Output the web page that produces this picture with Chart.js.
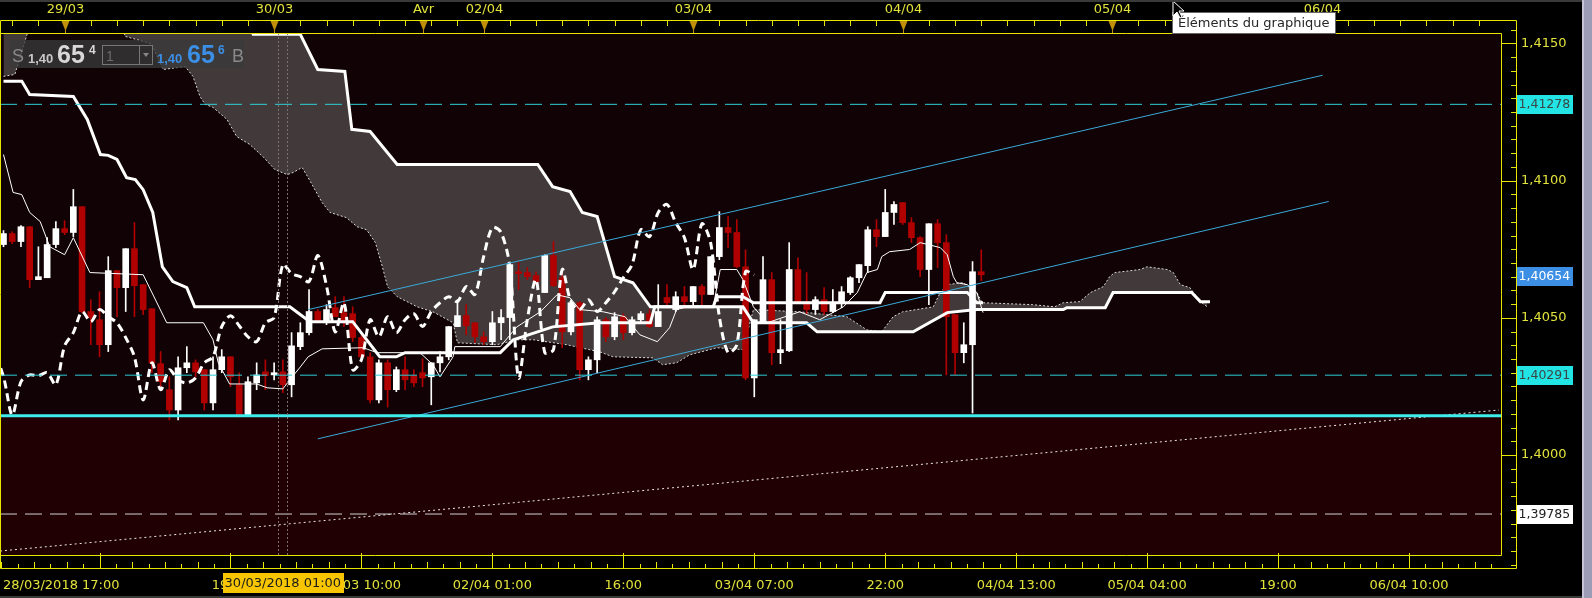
<!DOCTYPE html>
<html>
<head>
<meta charset="utf-8">
<title>Ichimoku 1h</title>
<script src="https://cdn.jsdelivr.net/npm/chart.js@4.4.1/dist/chart.umd.min.js"></script>
<style>
  html, body { margin: 0; padding: 0; background: #000; overflow: hidden; }
  #wrap { position: relative; width: 1592px; height: 598px; }
</style>
</head>
<body>
<div id="wrap"><canvas id="chart"></canvas></div>
<script>
// hourly bars, bar 0 = 28/03/2018 17:00 (weekend hours skipped)
const open = [1.40767,1.40807,1.40778,1.40832,1.40639,1.40646,1.40767,1.40825,1.40811,1.40905,
  1.40523,1.40493,1.40402,1.40672,1.40610,1.40752,1.40621,1.40533,1.40333,1.40238,
  1.40164,1.40318,1.40336,1.40311,1.40190,1.40311,1.40358,1.40256,1.40146,1.40263,
  1.40303,1.40292,1.40303,1.40256,1.40395,1.40446,1.40523,1.40482,1.40537,1.40519,
  1.40515,1.40428,1.40358,1.40201,1.40336,1.40238,1.40311,1.40289,1.40300,1.40285,
  1.40336,1.40358,1.40468,1.40508,1.40482,1.40431,1.40413,1.40482,1.40501,1.40668,
  1.40665,1.40654,1.40592,1.40727,1.40646,1.40449,1.40555,1.40311,1.40347,1.40493,
  1.40431,1.40504,1.40446,1.40493,1.40515,1.40468,1.40574,1.40530,1.40577,1.40559,
  1.40614,1.40585,1.40723,1.40829,1.40811,1.40686,1.40281,1.40482,1.40639,1.40373,
  1.40380,1.40676,1.40559,1.40530,1.40566,1.40523,1.40555,1.40592,1.40646,1.40690,
  1.40821,1.40796,1.40884,1.40920,1.40847,1.40792,1.40676,1.40843,1.40774,1.40512,
  1.40373,1.40402,1.40668];
const high = [1.40818,1.40814,1.40836,1.40832,1.40759,1.40792,1.40851,1.40854,1.40968,1.40905,
  1.40566,1.40595,1.40723,1.40672,1.40752,1.40847,1.40621,1.40533,1.40377,1.40285,
  1.40358,1.40395,1.40347,1.40311,1.40358,1.40384,1.40358,1.40300,1.40285,1.40336,
  1.40347,1.40336,1.40347,1.40446,1.40482,1.40603,1.40530,1.40548,1.40577,1.40577,
  1.40540,1.40438,1.40373,1.40347,1.40347,1.40321,1.40358,1.40311,1.40351,1.40336,
  1.40377,1.40468,1.40566,1.40548,1.40482,1.40449,1.40523,1.40530,1.40694,1.40701,
  1.40683,1.40668,1.40730,1.40778,1.40676,1.40566,1.40559,1.40358,1.40504,1.40501,
  1.40519,1.40515,1.40504,1.40523,1.40530,1.40621,1.40621,1.40595,1.40614,1.40614,
  1.40621,1.40723,1.40887,1.40869,1.40858,1.40748,1.40493,1.40723,1.40665,1.40493,
  1.40774,1.40719,1.40665,1.40577,1.40610,1.40603,1.40614,1.40650,1.40694,1.40832,
  1.40858,1.40968,1.40924,1.40920,1.40865,1.40796,1.40843,1.40858,1.40803,1.40512,
  1.40482,1.40705,1.40748];
const low = [1.40759,1.40770,1.40759,1.40610,1.40639,1.40646,1.40756,1.40803,1.40796,1.40519,
  1.40402,1.40358,1.40377,1.40504,1.40523,1.40504,1.40512,1.40300,1.40238,1.40128,
  1.40128,1.40300,1.40285,1.40164,1.40164,1.40300,1.40249,1.40139,1.40146,1.40238,
  1.40238,1.40274,1.40227,1.40212,1.40384,1.40438,1.40482,1.40475,1.40504,1.40468,
  1.40413,1.40347,1.40190,1.40190,1.40175,1.40231,1.40238,1.40249,1.40249,1.40183,
  1.40303,1.40347,1.40468,1.40438,1.40409,1.40402,1.40402,1.40420,1.40420,1.40603,
  1.40639,1.40621,1.40592,1.40614,1.40391,1.40438,1.40274,1.40274,1.40300,1.40413,
  1.40420,1.40420,1.40438,1.40482,1.40464,1.40468,1.40540,1.40523,1.40540,1.40548,
  1.40548,1.40585,1.40712,1.40756,1.40683,1.40274,1.40212,1.40482,1.40329,1.40333,
  1.40377,1.40555,1.40512,1.40512,1.40512,1.40519,1.40537,1.40585,1.40628,1.40665,
  1.40759,1.40796,1.40840,1.40840,1.40774,1.40650,1.40548,1.40683,1.40292,1.40292,
  1.40336,1.40153,1.40635];
const close = [1.40807,1.40778,1.40832,1.40639,1.40650,1.40767,1.40825,1.40811,1.40905,1.40523,
  1.40501,1.40402,1.40672,1.40610,1.40752,1.40617,1.40530,1.40336,1.40267,1.40164,
  1.40318,1.40336,1.40303,1.40190,1.40311,1.40358,1.40285,1.40146,1.40267,1.40292,
  1.40289,1.40300,1.40256,1.40398,1.40446,1.40523,1.40486,1.40530,1.40504,1.40482,
  1.40428,1.40358,1.40201,1.40336,1.40238,1.40311,1.40274,1.40263,1.40281,1.40336,
  1.40358,1.40468,1.40508,1.40471,1.40431,1.40413,1.40482,1.40501,1.40694,1.40661,
  1.40650,1.40632,1.40727,1.40617,1.40449,1.40555,1.40311,1.40347,1.40493,1.40431,
  1.40504,1.40446,1.40493,1.40515,1.40468,1.40523,1.40555,1.40577,1.40559,1.40614,
  1.40585,1.40723,1.40829,1.40811,1.40686,1.40281,1.40493,1.40639,1.40373,1.40384,
  1.40676,1.40559,1.40530,1.40566,1.40523,1.40555,1.40595,1.40646,1.40694,1.40821,
  1.40796,1.40884,1.40913,1.40847,1.40792,1.40676,1.40843,1.40774,1.40504,1.40373,
  1.40402,1.40668,1.40657];

// ichimoku lines: [bar, price]
const tenkan = [[0,1.41095],[1.1,1.40957],[2.1,1.40949],[3.0,1.40884],[4.2,1.40851],[5.3,1.40759],[7.0,1.40730],
  [8.0,1.40792],[9.9,1.40665],[16.0,1.40657],[18.7,1.40482],[22.9,1.40482],[24.0,1.40420],[24.6,1.40336],
  [25.9,1.40259],[29.0,1.40259],[30.2,1.40245],[32.0,1.40241],[32.8,1.40274],[34.0,1.40321],[34.9,1.40358],
  [36.5,1.40387],[41.2,1.40391],[42.8,1.40373],[47.7,1.40373],[49.2,1.40329],[50.0,1.40285],[51.5,1.40358],
  [51.7,1.40395],[56.9,1.40395],[58.8,1.40467],[61.5,1.40522],[63.4,1.40584],[64.9,1.40573],[66.0,1.40530],
  [68.7,1.40522],[71.2,1.40504],[72.9,1.40438],[74.9,1.40413],[76.3,1.40464],[77.1,1.40530],[78.3,1.40540],
  [81.3,1.40540],[82.1,1.40676],[84.0,1.40676],[84.7,1.40639],[85.9,1.40540],[87.5,1.40482],[91.2,1.40522],
  [93.5,1.40493],[96.2,1.40540],[97.8,1.40592],[98.9,1.40665],[100.1,1.40676],[100.6,1.40723],[101.5,1.40741],
  [103.8,1.40749],[105.0,1.40774],[107.3,1.40756],[108.1,1.40730],[108.8,1.40650],[109.2,1.40628],
  [110.4,1.40621],[111.5,1.40592],[112.2,1.40519]];
const kijun = [[0,1.41362],[2.1,1.41362],[3.0,1.41314],[8.0,1.41307],[9.6,1.41223],[11.1,1.41095],[12.0,1.41092],
  [13.0,1.41077],[14.1,1.41011],[15.1,1.41004],[16.0,1.40967],[17.1,1.40884],[18.2,1.40686],[19.4,1.40632],
  [21.0,1.40610],[21.9,1.40540],[32.8,1.40540],[35.1,1.40486],[40.0,1.40486],[43.1,1.40358],[45.0,1.40358],
  [46.0,1.40373],[56.9,1.40373],[58.4,1.40420],[62.9,1.40467],[68.3,1.40482],[74.1,1.40482],[74.6,1.40540],
  [81.3,1.40540],[81.7,1.40577],[84.7,1.40577],[85.9,1.40555],[100.4,1.40555],[101.0,1.40592],[110.4,1.40592],
  [111.5,1.40555],[112.2,1.40555]];
const senkouA = [[0,1.41380],[1.3,1.41387],[2.7,1.41533],[3.0,1.41588],[13.7,1.41588],[13.9,1.41526],
  [16.4,1.41504],[17.0,1.41497],[17.6,1.41453],[18.3,1.41405],[20.8,1.41416],[21.7,1.41380],[22.5,1.41307],
  [23.1,1.41278],[24.0,1.41267],[25.6,1.41223],[26.7,1.41161],[28.2,1.41132],[29.7,1.41088],[31.1,1.41040],
  [32.5,1.41022],[33.2,1.41030],[34.2,1.41048],[34.9,1.41011],[36.5,1.40920],[37.4,1.40884],[39.3,1.40865],
  [40.5,1.40832],[41.6,1.40821],[42.6,1.40774],[43.4,1.40686],[44.0,1.40613],[45.1,1.40577],[47.4,1.40540],
  [49.2,1.40522],[51.5,1.40482],[52.0,1.40409],[56.5,1.40402],[58.8,1.40420],[60.7,1.40420],[64.5,1.40402],
  [68.3,1.40376],[69.8,1.40358],[74.4,1.40354],[75.5,1.40329],[77.1,1.40336],[78.6,1.40365],[81.7,1.40391],
  [84.7,1.40384],[85.9,1.40530],[91.2,1.40522],[96.6,1.40504],[98.9,1.40456],[100.6,1.40449],[101.9,1.40504],
  [103.0,1.40522],[106.5,1.40540],[107.3,1.40592],[108.1,1.40621],[109.9,1.40628],[111.5,1.40592],
  [112.1,1.40555],[117.9,1.40548],[120.4,1.40540],[121.4,1.40555],[123.3,1.40559],[124.5,1.40592],
  [126.0,1.40614],[126.7,1.40650],[127.3,1.40665],[130.2,1.40676],[131.0,1.40686],[133.3,1.40676],
  [134.0,1.40665],[134.8,1.40621],[135.9,1.40610],[137.1,1.40559],[137.9,1.40540]];
const senkouB = [[0,1.41606],[27.7,1.41606],[28.6,1.41533],[34.0,1.41533],[36.0,1.41405],[39.1,1.41398],
  [39.9,1.41187],[42.0,1.41179],[45.1,1.41059],[61.2,1.41059],[62.9,1.40978],[64.9,1.40960],[66.3,1.40884],
  [68.0,1.40869],[70.0,1.40650],[72.1,1.40628],[74.1,1.40540],[84.7,1.40540],[85.9,1.40482],[92.0,1.40482],
  [93.2,1.40449],[104.2,1.40449],[108.1,1.40519],[111.5,1.40530],[121.4,1.40530],[121.8,1.40537],
  [126.2,1.40537],[127.1,1.40592],[136.1,1.40592],[137.1,1.40559],[138.2,1.40559]];
const chikouShift = 26;

// drawn objects
const channelUp = [[34.9,1.40530],[151.1,1.41384]];
const channelLow = [[36.0,1.40059],[151.8,1.40924]];
const longTrend = [[-0.4,1.39650],[171.3,1.40164]];
const supportLevel = 1.40143;
const dashedCyan = [1.41278, 1.40291];
const dashedWhite = 1.39785;

// axes
const xMin = -0.4, xMax = 171.65, yMin = 1.39632, yMax = 1.41538;
const dayIdx = [7, 31, 48, 55, 79, 103, 127, 151];
const dayLabels = ['29/03', '30/03', 'Avr', '02/04', '03/04', '04/04', '05/04', '06/04'];
const timeIdx = [11, 26, 41, 56, 71, 86, 101, 116, 131, 146, 161];
const timeLabels = ['', '19:00', '30/03 10:00', '02/04 01:00', '16:00', '03/04 07:00', '22:00',
  '04/04 13:00', '05/04 04:00', '19:00', '06/04 10:00'];
const firstLabel = '28/03/2018 17:00';
const priceTicks = [1.4150, 1.4100, 1.4050, 1.4000];
const priceMarks = [
  { v: 1.41278, bg: '#22e4e4', fg: '#3a4646' },
  { v: 1.40654, bg: '#3d8fe6', fg: '#ffffff' },
  { v: 1.40291, bg: '#22e4e4', fg: '#3a4646' },
  { v: 1.39785, bg: '#ffffff', fg: '#222222' }
];
const crossIdx = 32;
const crossLabel = '30/03/2018 01:00';

const pts = arr => arr.map(p => ({ x: p[0], y: p[1] }));
const flat = v => [{ x: xMin, y: v }, { x: xMax, y: v }];
const fmt = (v, d) => v.toFixed(d).replace('.', ',');

const AXIS = '#e6e600';
const LABEL = '#e2e23c';
const FONT = '13px "DejaVu Sans"';

const chrome = {
  id: 'chrome',
  beforeDraw(chart) {
    const { ctx, chartArea: a, scales: { y } } = chart;
    ctx.save();
    ctx.fillStyle = '#000';
    ctx.fillRect(0, 0, chart.width, chart.height);
    const ys = Math.round(y.getPixelForValue(supportLevel));
    ctx.fillStyle = '#100205';
    ctx.fillRect(a.left, a.top, a.right - a.left, ys - a.top);
    ctx.fillStyle = '#210003';
    ctx.fillRect(a.left, ys, a.right - a.left, a.bottom - ys);
    ctx.restore();
  },
  afterDraw(chart) {
    const { ctx, chartArea: a, scales: { x, y } } = chart;
    const T = a.top, B = a.bottom, R = a.right;
    const oT = 20, oR = 1517, oB = 569;
    ctx.save();

    // crosshair
    ctx.strokeStyle = '#7d6f6f';
    ctx.lineWidth = 1;
    ctx.setLineDash([2, 2]);
    [crossIdx - 0.5, crossIdx + 0.5].forEach(v => {
      const px = Math.round(x.getPixelForValue(v)) + 0.5;
      ctx.beginPath(); ctx.moveTo(px, T); ctx.lineTo(px, B); ctx.stroke();
    });
    ctx.setLineDash([]);

    // frames
    ctx.strokeStyle = AXIS;
    ctx.beginPath();
    ctx.moveTo(0.5, oT + 0.5); ctx.lineTo(oR - 0.5, oT + 0.5); ctx.lineTo(oR - 0.5, oB - 0.5); ctx.lineTo(0.5, oB - 0.5); ctx.closePath();
    ctx.moveTo(0.5, T + 0.5); ctx.lineTo(R - 0.5, T + 0.5); ctx.lineTo(R - 0.5, B - 0.5); ctx.lineTo(0.5, B - 0.5);
    ctx.stroke();

    // top axis
    ctx.beginPath();
    for (let i = 1; i < xMax; i += 3) {
      const px = Math.round(x.getPixelForValue(i)) + 0.5;
      ctx.moveTo(px, oT); ctx.lineTo(px, oT + 6);
    }
    ctx.stroke();
    ctx.font = FONT;
    ctx.textAlign = 'center';
    ctx.textBaseline = 'middle';
    dayIdx.forEach((d, k) => {
      const px = Math.round(x.getPixelForValue(d)) + 0.5;
      ctx.fillStyle = '#c0900a';
      ctx.beginPath(); ctx.moveTo(px - 4, oT + 1); ctx.lineTo(px + 4, oT + 1); ctx.lineTo(px, oT + 11); ctx.closePath(); ctx.fill();
      ctx.strokeStyle = '#c0900a';
      ctx.beginPath(); ctx.moveTo(px, oT + 10); ctx.lineTo(px, T); ctx.stroke();
      ctx.fillStyle = LABEL;
      ctx.fillText(dayLabels[k], px, 10);
    });

    // right axis
    ctx.strokeStyle = AXIS;
    ctx.beginPath();
    for (let k = 0; k <= 40; k++) {
      const v = 1.3960 + k * 0.0005;
      const py = Math.round(y.getPixelForValue(v)) + 0.5;
      if (py < oT || py > oB) continue;
      ctx.moveTo(oR - 6, py); ctx.lineTo(oR, py);
    }
    priceTicks.forEach(v => {
      const py = Math.round(y.getPixelForValue(v)) + 0.5;
      ctx.moveTo(R, py); ctx.lineTo(oR, py);
    });
    ctx.stroke();
    ctx.textAlign = 'left';
    ctx.fillStyle = LABEL;
    priceTicks.forEach(v => ctx.fillText(fmt(v, 4), 1521, y.getPixelForValue(v)));
    priceMarks.forEach(m => {
      const py = Math.round(y.getPixelForValue(m.v));
      ctx.fillStyle = m.bg;
      ctx.fillRect(oR, py - 9, 56, 19);
      ctx.fillStyle = m.fg;
      ctx.font = '12.5px "DejaVu Sans"';
      ctx.fillText(fmt(m.v, 5), 1518.5, py + 1);
    });
    ctx.font = FONT;

    // bottom axis
    ctx.strokeStyle = AXIS;
    ctx.beginPath();
    for (let m = timeIdx[0] - 15; m < xMax; m += 15) {
      for (let j = 1; j < 8; j++) {
        const px = Math.round(x.getPixelForValue(m + j * 15 / 8)) + 0.5;
        if (px > R) continue;
        ctx.moveTo(px, oB); ctx.lineTo(px, oB - (j % 2 ? 5 : 7));
      }
    }
    timeIdx.forEach(t => {
      const px = Math.round(x.getPixelForValue(t)) + 0.5;
      ctx.moveTo(px, B - 3); ctx.lineTo(px, oB);
    });
    ctx.stroke();
    ctx.fillStyle = LABEL;
    ctx.textAlign = 'left';
    ctx.fillText(firstLabel, 3, 586);
    ctx.textAlign = 'center';
    timeIdx.forEach((t, k) => ctx.fillText(timeLabels[k], x.getPixelForValue(t), 586));

    // crosshair date
    const cx = x.getPixelForValue(crossIdx);
    ctx.fillStyle = '#f8c600';
    ctx.fillRect(Math.round(cx - 60), 573, 121, 20);
    ctx.fillStyle = '#1a1a1a';
    ctx.fillText(crossLabel, cx, 584);

    // quote box
    ctx.fillStyle = 'rgba(58,58,58,0.78)';
    ctx.fillRect(10, 40, 234, 28);
    ctx.textAlign = 'left';
    ctx.textBaseline = 'alphabetic';
    ctx.font = '18px "Liberation Sans"';
    ctx.fillStyle = '#8a8a8a';
    ctx.fillText('S', 12, 62);
    ctx.fillText('B', 232, 62);
    ctx.font = 'bold 13px "Liberation Sans"';
    ctx.fillStyle = '#c8c8c8';
    ctx.fillText('1,40', 28, 63);
    ctx.fillStyle = '#3b8fe6';
    ctx.fillText('1,40', 157, 63);
    ctx.font = 'bold 25px "Liberation Sans"';
    ctx.fillStyle = '#d8d8d8';
    ctx.fillText('65', 57, 63);
    ctx.fillStyle = '#3b8fe6';
    ctx.fillText('65', 187, 63);
    ctx.font = 'bold 12px "Liberation Sans"';
    ctx.fillStyle = '#d8d8d8';
    ctx.fillText('4', 89, 54);
    ctx.fillStyle = '#3b8fe6';
    ctx.fillText('6', 218, 54);
    ctx.strokeStyle = '#777';
    ctx.strokeRect(102.5, 45.5, 50, 19);
    ctx.beginPath(); ctx.moveTo(139.5, 46); ctx.lineTo(139.5, 64); ctx.stroke();
    ctx.font = '14px "Liberation Sans"';
    ctx.fillStyle = '#6c6c6c';
    ctx.fillText('1', 106, 61);
    ctx.fillStyle = '#888';
    ctx.beginPath(); ctx.moveTo(143, 53); ctx.lineTo(149, 53); ctx.lineTo(146, 57); ctx.closePath(); ctx.fill();

    // hover tip + pointer
    ctx.fillStyle = '#fff';
    ctx.fillRect(1172, 12, 164, 22);
    ctx.strokeStyle = '#666';
    ctx.strokeRect(1172.5, 12.5, 163, 21);
    ctx.fillStyle = '#262626';
    ctx.font = FONT;
    ctx.textBaseline = 'middle';
    ctx.fillText('Éléments du graphique', 1178, 24);
    const px0 = 1173, py0 = 1;
    ctx.beginPath();
    ctx.moveTo(px0, py0); ctx.lineTo(px0, py0 + 15); ctx.lineTo(px0 + 4, py0 + 11); ctx.lineTo(px0 + 7, py0 + 17);
    ctx.lineTo(px0 + 9, py0 + 16); ctx.lineTo(px0 + 6, py0 + 10); ctx.lineTo(px0 + 11, py0 + 10); ctx.closePath();
    ctx.fillStyle = '#000'; ctx.fill();
    ctx.strokeStyle = '#fff'; ctx.stroke();

    // window edges
    ctx.fillStyle = '#3a3a3a';
    ctx.fillRect(0, 0, 1582, 2);
    ctx.fillRect(0, 596, 1582, 2);
    ctx.fillStyle = '#9c9cb6';
    ctx.fillRect(1582, 0, 10, 598);
    ctx.fillStyle = '#c4c4d6';
    ctx.fillRect(1582, 0, 2, 598);
    ctx.restore();
  }
};

const isUp = close.map((c, i) => c >= open[i]);
const candleColor = isUp.map(u => (u ? '#ffffff' : '#b00000'));

new Chart(document.getElementById('chart'), {
  type: 'line',
  data: {
    datasets: [
      { label: 'Senkou A', data: pts(senkouA), borderColor: '#d8d8d8', borderWidth: 1, borderDash: [2, 2],
        fill: { target: 1, above: 'rgb(66,58,58)', below: 'rgb(66,58,58)' }, order: 20 },
      { label: 'Senkou B', data: pts(senkouB), borderColor: '#ffffff', borderWidth: 3, order: 10 },
      { type: 'bar', label: 'wick', data: high.map((h, i) => ({ x: i, y: [low[i], h] })),
        backgroundColor: candleColor, barThickness: 1, grouped: false, minBarLength: 1, order: 15 },
      { type: 'bar', label: 'body', data: close.map((c, i) => ({ x: i, y: [Math.min(open[i], c), Math.max(open[i], c)] })),
        backgroundColor: candleColor, barThickness: 6, grouped: false, minBarLength: 1, order: 14 },
      { label: 'Tenkan', data: pts(tenkan), borderColor: '#ffffff', borderWidth: 1, order: 11 },
      { label: 'Kijun', data: pts(kijun), borderColor: '#ffffff', borderWidth: 3, order: 9 },
      { label: 'Chikou', data: close.map((c, i) => ({ x: i - chikouShift, y: c })), borderColor: '#ffffff',
        borderWidth: 3, borderDash: [8, 5], tension: 0.3, order: 8 },
      { label: 'channel up', data: pts(channelUp), borderColor: '#3aa9d8', borderWidth: 1, order: 5 },
      { label: 'channel low', data: pts(channelLow), borderColor: '#3aa9d8', borderWidth: 1, order: 5 },
      { label: 'trend', data: pts(longTrend), borderColor: '#e8e8e8', borderWidth: 1, borderDash: [2, 3], order: 5 },
      { label: 'support', data: flat(supportLevel), borderColor: '#3eecec', borderWidth: 3, order: 1 },
      { label: 'r1', data: flat(dashedCyan[0]), borderColor: '#2ccfd6', borderWidth: 1, borderDash: [17, 8], order: 1 },
      { label: 'r2', data: flat(dashedCyan[1]), borderColor: '#2ccfd6', borderWidth: 1, borderDash: [17, 8], order: 1 },
      { label: 's2', data: flat(dashedWhite), borderColor: '#d0d0d0', borderWidth: 1, borderDash: [17, 8], order: 1 }
    ]
  },
  options: {
    responsive: true,
    maintainAspectRatio: false,
    animation: false,
    events: [],
    clip: 0,
    layout: { padding: { left: 0, top: 33, right: 90, bottom: 42 } },
    elements: { point: { radius: 0 }, line: { tension: 0 }, bar: { borderWidth: 0 } },
    plugins: { legend: { display: false }, tooltip: { enabled: false } },
    scales: {
      x: { type: 'linear', min: xMin, max: xMax, display: false, offset: false },
      y: { type: 'linear', min: yMin, max: yMax, display: false }
    }
  },
  plugins: [chrome]
});
</script>
</body>
</html>
